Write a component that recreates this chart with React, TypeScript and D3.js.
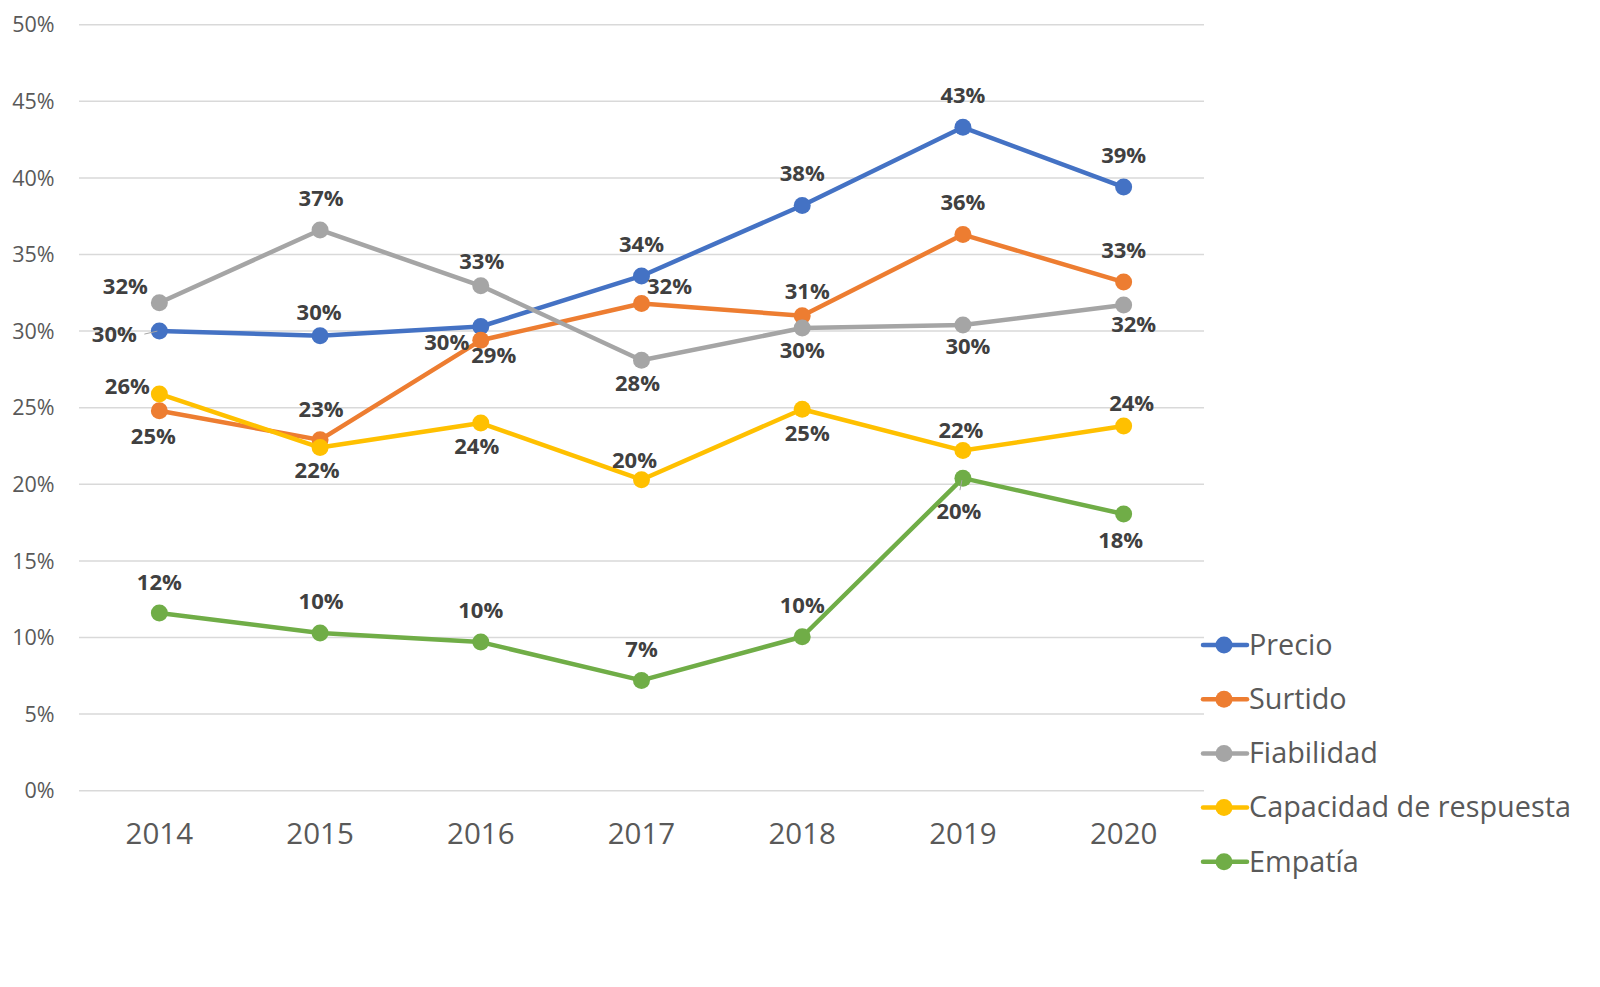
import { useEffect, useRef } from "react";
import * as d3 from "d3";

const years = ["2014", "2015", "2016", "2017", "2018", "2019", "2020"];

const precio = [30.0, 29.7, 30.3, 33.6, 38.2, 43.3, 39.4];
const surtido = [24.8, 22.9, 29.4, 31.8, 31.0, 36.3, 33.2];
const fiabilidad = [31.85, 36.6, 32.96, 28.1, 30.2, 30.4, 31.7];
const capacidad = [25.9, 22.4, 24.0, 20.3, 24.9, 22.2, 23.8];
const empatia = [11.6, 10.3, 9.7, 7.2, 10.05, 20.4, 18.06];

const yTicks = [0, 5, 10, 15, 20, 25, 30, 35, 40, 45, 50];

// where each data label sits relative to its marker (dx, dy of the text centre)
const precioLabels = [[-45, 3], [-1, -23], [-34, 16], [0, -32], [0, -32], [0, -32], [0, -32]];
const surtidoLabels = [[-6, 25], [1, -31], [13, 15], [28, -17], [5, -25], [0, -32], [0, -32]];
const fiabilidadLabels = [[-34, -17], [1, -32], [1, -25], [-4, 23], [0, 22], [5, 21], [10, 19]];
const capacidadLabels = [[-32, -8], [-3, 23], [-4, 23], [-7, -20], [5, 24], [-2, -20], [8, -23]];
const empatiaLabels = [[0, -31], [1, -32], [0, -32], [0, -31], [0, -32], [-4, 33], [-3, 26]];

const series = [
  { name: "Precio", values: precio, color: "#4472C4", labels: precioLabels, leader: [0] },
  { name: "Surtido", values: surtido, color: "#ED7D31", labels: surtidoLabels, leader: [] },
  { name: "Fiabilidad", values: fiabilidad, color: "#A5A5A5", labels: fiabilidadLabels, leader: [] },
  { name: "Capacidad de respuesta", values: capacidad, color: "#FFC000", labels: capacidadLabels, leader: [] },
  { name: "Empatía", values: empatia, color: "#70AD47", labels: empatiaLabels, leader: [5] },
];

const W = 1600;
const H = 987;
const FONT = "'Open Sans', 'Noto Sans', sans-serif";

const App = () => {
  const ref = useRef<SVGSVGElement | null>(null);

  useEffect(() => {
    if (!ref.current) return;
    const svg = d3.select(ref.current);
    svg.selectAll("*").remove();

    const x = d3.scaleBand(years, [79, 1204]);
    const cx = (d: string) => (x(d) ?? 0) + x.bandwidth() / 2;
    const y = d3.scaleLinear([0, 50], [790.7, 24.7]);

    svg.append("rect").attr("width", W).attr("height", H).attr("fill", "#fff");

    // gridlines
    svg
      .append("g")
      .selectAll("line")
      .data(yTicks)
      .join("line")
      .attr("x1", 79)
      .attr("x2", 1204)
      .attr("y1", (d) => y(d))
      .attr("y2", (d) => y(d))
      .attr("stroke", "#d9d9d9")
      .attr("stroke-width", 1.5);

    // y tick labels
    svg
      .append("g")
      .selectAll("text")
      .data(yTicks)
      .join("text")
      .attr("x", 54.5)
      .attr("y", (d) => y(d) + 7.7)
      .attr("text-anchor", "end")
      .attr("font-family", FONT)
      .attr("font-size", 21.5)
      .attr("fill", "#595959")
      .text((d) => `${d}%`);

    // x labels
    svg
      .append("g")
      .selectAll("text")
      .data(years)
      .join("text")
      .attr("x", (d) => cx(d))
      .attr("y", 844)
      .attr("text-anchor", "middle")
      .attr("font-family", FONT)
      .attr("font-size", 29.5)
      .attr("fill", "#595959")
      .text((d) => d);

    const line = d3
      .line<number>()
      .x((_, i) => cx(years[i]))
      .y((d) => y(d));

    series.forEach((s) => {
      const g = svg.append("g");
      g.append("path")
        .attr("d", line(s.values))
        .attr("fill", "none")
        .attr("stroke", s.color)
        .attr("stroke-width", 4.5)
        .attr("stroke-linejoin", "round")
        .attr("stroke-linecap", "round");
      g.selectAll("circle")
        .data(s.values)
        .join("circle")
        .attr("cx", (_, i) => cx(years[i]))
        .attr("cy", (d) => y(d))
        .attr("r", 8.5)
        .attr("fill", s.color);
    });

    // data labels on top
    series.forEach((s) => {
      const g = svg.append("g");
      s.leader.forEach((i) => {
        const px = cx(years[i]);
        const py = y(s.values[i]);
        const [dx, dy] = s.labels[i];
        const side = dx < -20;
        g.append("line")
          .attr("x1", side ? px + dx + 30 : px - 3)
          .attr("y1", side ? py + dy : py + 12)
          .attr("x2", side ? px - 2 : px - 1)
          .attr("y2", side ? py : py + 2)
          .attr("stroke", "#a6a6a6")
          .attr("stroke-width", 1);
      });
      g.selectAll("text")
        .data(s.values)
        .join("text")
        .attr("x", (_, i) => cx(years[i]) + s.labels[i][0])
        .attr("y", (d, i) => y(d) + s.labels[i][1] + 7.8)
        .attr("text-anchor", "middle")
        .attr("font-family", FONT)
        .attr("font-weight", 700)
        .attr("font-size", 22)
        .attr("fill", "#404040")
        .text((d) => `${Math.round(d)}%`);
    });

    // legend
    const legend = svg
      .append("g")
      .selectAll("g")
      .data(series)
      .join("g")
      .attr("transform", (_, i) => `translate(0,${645 + i * 54.2})`);
    legend
      .append("line")
      .attr("x1", 1203)
      .attr("x2", 1247)
      .attr("stroke", (d) => d.color)
      .attr("stroke-width", 4.5)
      .attr("stroke-linecap", "round");
    legend
      .append("circle")
      .attr("cx", 1224)
      .attr("r", 8.5)
      .attr("fill", (d) => d.color);
    legend
      .append("text")
      .attr("x", 1249)
      .attr("y", 9.8)
      .attr("font-family", FONT)
      .attr("font-size", 28.8)
      .attr("fill", "#595959")
      .text((d) => d.name);
  }, []);

  return (
    <svg
      ref={ref}
      width={W}
      height={H}
      style={{ position: "absolute", left: 0, top: 0 }}
    />
  );
};

export default App;
